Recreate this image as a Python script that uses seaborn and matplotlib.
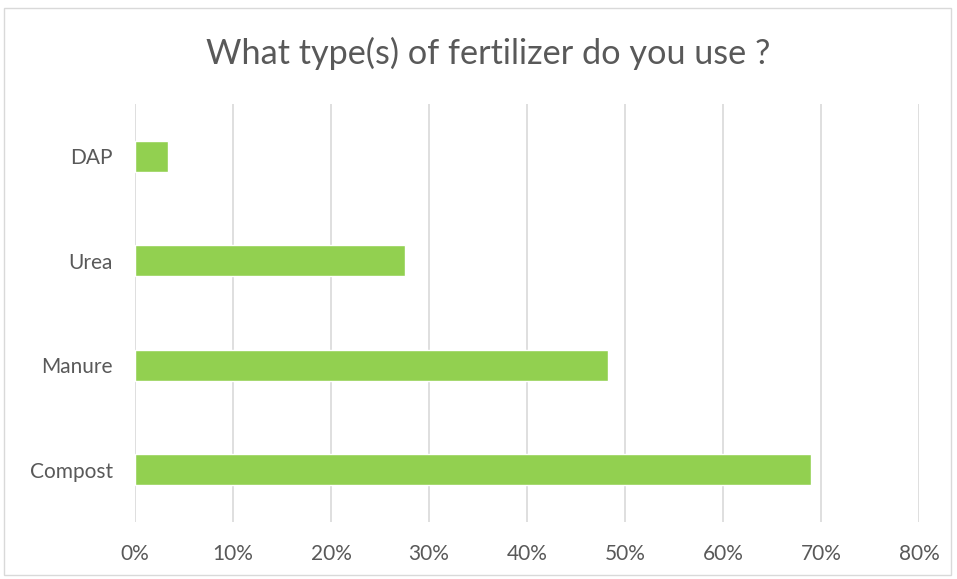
import matplotlib
matplotlib.use("Agg")
import matplotlib.pyplot as plt
import seaborn as sns
import pandas as pd
from matplotlib.patches import Rectangle
from matplotlib.ticker import FuncFormatter

# Share of respondents using each fertilizer type
fertilizers = ["DAP", "Urea", "Manure", "Compost"]
shares = [0.034, 0.276, 0.483, 0.690]
x_ticks = [0.0, 0.1, 0.2, 0.3, 0.4, 0.5, 0.6, 0.7, 0.8]

title = "What type(s) of fertilizer do you use ?"

df = pd.DataFrame({"fertilizer": fertilizers, "share": shares})

sns.set_theme(style="white")
plt.rcParams["font.family"] = ["Lato", "DejaVu Sans"]

text_color = "#595959"
grid_color = "#D9D9D9"
bar_color = "#92D050"

fig = plt.figure(figsize=(9.57, 5.79), dpi=100)
ax = fig.add_axes([135 / 957, 57 / 579, (919 - 135) / 957, (522 - 104) / 579])

sns.barplot(data=df, x="share", y="fertilizer", order=fertilizers,
            color=bar_color, saturation=1, width=0.3, ax=ax)

ax.set_xlim(0, 0.8)
ax.set_xticks(x_ticks)
ax.xaxis.set_major_formatter(FuncFormatter(lambda v, _: f"{v * 100:.0f}%"))
ax.grid(axis="x", color=grid_color, linewidth=1.2)
ax.set_axisbelow(True)
for s in ax.spines.values():
    s.set_visible(False)
ax.set_xlabel("")
ax.set_ylabel("")
ax.tick_params(axis="both", length=0, colors=text_color, labelsize=15)
ax.tick_params(axis="x", pad=16)
ax.tick_params(axis="y", pad=16)

fig.text(488 / 957, 1 - 53 / 579, title, ha="center", va="center",
         fontsize=24.7, color=text_color)

# Chart area border
fig.patches.append(Rectangle((4 / 957, 4 / 579), (951 - 4) / 957, (575 - 8) / 579,
                             transform=fig.transFigure, fill=False,
                             edgecolor="#D9D9D9", linewidth=1))

fig.savefig("out.png", dpi=100, facecolor="white")
